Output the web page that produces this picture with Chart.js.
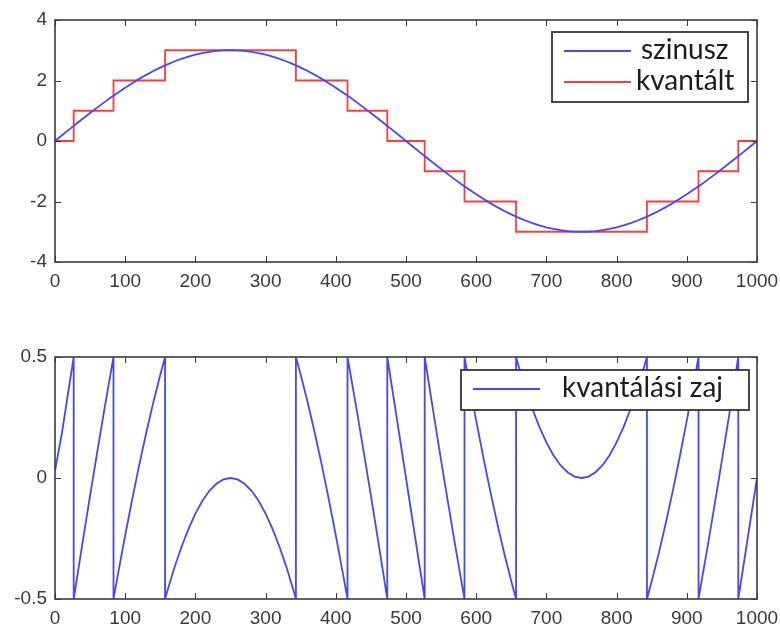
<!DOCTYPE html>
<html><head><meta charset="utf-8">
<script src="https://cdn.jsdelivr.net/npm/chart.js@4"></script>
<style>
html,body{margin:0;padding:0;background:#fff;}
#wrap{position:relative;width:780px;height:632px;overflow:hidden;}
canvas{position:absolute;left:0;}
#c1{top:0;}
#c2{top:320px;}
</style></head><body>
<div id="wrap">
<canvas id="c1" width="780" height="300"></canvas>
<canvas id="c2" width="780" height="312"></canvas>
</div>
<script>
// ---- data ----
const xTicks = [0,100,200,300,400,500,600,700,800,900,1000];
const topYTicks = [-4,-2,0,2,4];
const bottomYTicks = [-0.5,0,0.5];

const sineX = [0,10,20,30,40,50,60,70,80,90,100,110,120,130,140,150,160,170,180,190,200,210,220,230,240,250,260,270,280,290,300,310,320,330,340,350,360,370,380,390,400,410,420,430,440,450,460,470,480,490,500,510,520,530,540,550,560,570,580,590,600,610,620,630,640,650,660,670,680,690,700,710,720,730,740,750,760,770,780,790,800,810,820,830,840,850,860,870,880,890,900,910,920,930,940,950,960,970,980,990,1000];
const sineY = [0,0.188,0.376,0.562,0.746,0.927,1.104,1.277,1.445,1.607,1.763,1.912,2.054,2.187,2.312,2.427,2.533,2.629,2.714,2.789,2.853,2.906,2.947,2.976,2.994,3,2.994,2.976,2.947,2.906,2.853,2.789,2.714,2.629,2.533,2.427,2.312,2.187,2.054,1.912,1.763,1.607,1.445,1.277,1.104,0.927,0.746,0.562,0.376,0.188,0,-0.188,-0.376,-0.562,-0.746,-0.927,-1.104,-1.277,-1.445,-1.607,-1.763,-1.912,-2.054,-2.187,-2.312,-2.427,-2.533,-2.629,-2.714,-2.789,-2.853,-2.906,-2.947,-2.976,-2.994,-3,-2.994,-2.976,-2.947,-2.906,-2.853,-2.789,-2.714,-2.629,-2.533,-2.427,-2.312,-2.187,-2.054,-1.912,-1.763,-1.607,-1.445,-1.277,-1.104,-0.927,-0.746,-0.562,-0.376,-0.188,0];

const quantX = [0,26.65,83.33,156.8,343.2,416.7,473.35,526.65,583.33,656.8,843.2,916.7,973.35,1000];
const quantY = [0,1,2,3,2,1,0,-1,-2,-3,-2,-1,0,0];

const noiseX = [0,10,20,26.65,
 26.65,30,40,50,60,70,80,83.33,
 83.33,90,100,110,120,130,140,150,156.8,
 156.8,160,170,180,190,200,210,220,230,240,250,260,270,280,290,300,310,320,330,340,343.2,
 343.2,350,360,370,380,390,400,410,416.7,
 416.7,420,430,440,450,460,470,473.35,
 473.35,480,490,500,510,520,526.65,
 526.65,530,540,550,560,570,580,583.33,
 583.33,590,600,610,620,630,640,650,656.8,
 656.8,660,670,680,690,700,710,720,730,740,750,760,770,780,790,800,810,820,830,840,843.2,
 843.2,850,860,870,880,890,900,910,916.7,
 916.7,920,930,940,950,960,970,973.35,
 973.35,980,990,1000];
const noiseY = [0.03,0.188,0.376,0.5,
 -0.5,-0.438,-0.254,-0.073,0.104,0.277,0.445,0.5,
 -0.5,-0.393,-0.237,-0.088,0.054,0.187,0.312,0.427,0.5,
 -0.5,-0.467,-0.371,-0.286,-0.211,-0.147,-0.094,-0.053,-0.024,-0.006,0,-0.006,-0.024,-0.053,-0.094,-0.147,-0.211,-0.286,-0.371,-0.467,-0.5,
 0.5,0.427,0.312,0.187,0.054,-0.088,-0.237,-0.393,-0.5,
 0.5,0.445,0.277,0.104,-0.073,-0.254,-0.438,-0.5,
 0.5,0.376,0.188,0,-0.188,-0.376,-0.5,
 0.5,0.438,0.254,0.073,-0.104,-0.277,-0.445,-0.5,
 0.5,0.393,0.237,0.088,-0.054,-0.187,-0.312,-0.427,-0.5,
 0.5,0.467,0.371,0.286,0.211,0.147,0.094,0.053,0.024,0.006,0,0.006,0.024,0.053,0.094,0.147,0.211,0.286,0.371,0.467,0.5,
 -0.5,-0.427,-0.312,-0.187,-0.054,0.088,0.237,0.393,0.5,
 -0.5,-0.445,-0.277,-0.104,0.073,0.254,0.438,0.5,
 -0.5,-0.376,-0.188,0];

const topLabels = ['szinusz','kvantált'];
const bottomLabels = ['kvantálási zaj'];

// ---- styling ----
const BLUE = 'rgb(70,70,255)';
const RED = 'rgb(255,60,60)';
const FRAME = '#3c3c3c';
const TICKFONT = {family:'"Liberation Sans", Arial, sans-serif', size:19};
const TICKCOLOR = '#3a3a3a';

function pts(xs, ys){ return xs.map((x,i)=>({x:x, y:ys[i]})); }

const framePlugin = {
  id:'frameLegend',
  afterDatasetsDraw(chart, args, opts){
    const {ctx, chartArea:a, scales} = chart;
    ctx.save();
    ctx.strokeStyle = FRAME;
    ctx.lineWidth = 1;
    const tl = 6;
    ctx.beginPath();
    scales.x.ticks.forEach(t=>{
      const x = Math.round(scales.x.getPixelForValue(t.value))+0.5;
      ctx.moveTo(x, a.bottom); ctx.lineTo(x, a.bottom-tl);
      ctx.moveTo(x, a.top); ctx.lineTo(x, a.top+tl);
    });
    scales.y.ticks.forEach(t=>{
      const y = Math.round(scales.y.getPixelForValue(t.value))+0.5;
      ctx.moveTo(a.left, y); ctx.lineTo(a.left+tl, y);
      ctx.moveTo(a.right, y); ctx.lineTo(a.right-tl, y);
    });
    ctx.stroke();
    ctx.lineWidth = 1.6;
    ctx.strokeRect(a.left, a.top, a.right-a.left, a.bottom-a.top);
    const L = opts.legend;
    if (L){
      const bx = a.right - L.inset - L.w, by = a.top + L.top;
      ctx.fillStyle = '#fff';
      ctx.fillRect(bx, by, L.w, L.h);
      ctx.lineWidth = 1.8;
      ctx.strokeStyle = '#333';
      ctx.strokeRect(bx, by, L.w, L.h);
      ctx.font = '28px Lato, "Open Sans", sans-serif';
      ctx.textBaseline = 'alphabetic';
      ctx.textAlign = 'left';
      L.items.forEach((it, i)=>{
        const ly = by + L.rows[i];
        ctx.strokeStyle = it.color;
        ctx.lineWidth = 2;
        ctx.beginPath();
        ctx.moveTo(bx+12, ly); ctx.lineTo(bx+79, ly);
        ctx.stroke();
        ctx.fillStyle = '#1c1c1c';
        if (it.maxW) ctx.fillText(it.label, bx + it.dx, ly + 7.5, it.maxW);
        else ctx.fillText(it.label, bx + it.dx, ly + 7.5);
      });
    }
    ctx.restore();
  }
};

function axisX(h){
  return {
    type:'linear', min:0, max:1000,
    afterBuildTicks(s){ s.ticks = xTicks.map(v=>({value:v})); },
    afterFit(s){ s.height = h; s.paddingLeft = 0; s.paddingRight = 0; },
    grid:{display:false, drawTicks:false},
    border:{display:false},
    ticks:{font:TICKFONT, color:TICKCOLOR, padding:8, maxRotation:0, autoSkip:false, callback:(v)=>String(v)}
  };
}
function axisY(min,max,ticks){
  return {
    type:'linear', min:min, max:max,
    afterBuildTicks(s){ s.ticks = ticks.map(v=>({value:v})); },
    afterFit(s){ s.width = 55; s.paddingTop = 0; s.paddingBottom = 0; },
    grid:{display:false, drawTicks:false},
    border:{display:false},
    ticks:{font:TICKFONT, color:TICKCOLOR, padding:8, callback:(v)=>String(v)}
  };
}

new Chart(document.getElementById('c1'), {
  type:'scatter',
  data:{datasets:[
    {label:topLabels[0], data:pts(sineX, sineY), showLine:true, borderColor:BLUE, borderWidth:1.8, pointRadius:0, fill:false},
    {label:topLabels[1], data:pts(quantX, quantY), showLine:true, stepped:'before', borderColor:RED, borderWidth:1.8, pointRadius:0, fill:false}
  ]},
  options:{
    responsive:false, animation:false,
    layout:{padding:{left:0, right:23, top:20, bottom:0}},
    scales:{x:axisX(38), y:axisY(-4,4,topYTicks)},
    plugins:{legend:{display:false}, tooltip:{enabled:false},
      frameLegend:{legend:{inset:9, top:12, w:196, h:70, rows:[19,50],
        items:[{label:topLabels[0], color:BLUE, dx:89},{label:topLabels[1], color:RED, dx:84}]}}}
  },
  plugins:[framePlugin]
});

new Chart(document.getElementById('c2'), {
  type:'scatter',
  data:{datasets:[
    {label:bottomLabels[0], data:pts(noiseX, noiseY), showLine:true, borderColor:BLUE, borderWidth:1.8, pointRadius:0, fill:false}
  ]},
  options:{
    responsive:false, animation:false,
    layout:{padding:{left:0, right:23, top:37, bottom:0}},
    scales:{x:axisX(33), y:axisY(-0.5,0.5,bottomYTicks)},
    plugins:{legend:{display:false}, tooltip:{enabled:false},
      frameLegend:{legend:{inset:8, top:13, w:288, h:40, rows:[19],
        items:[{label:bottomLabels[0], color:BLUE, dx:101, maxW:161}]}}}
  },
  plugins:[framePlugin]
});
</script>
</body></html>
